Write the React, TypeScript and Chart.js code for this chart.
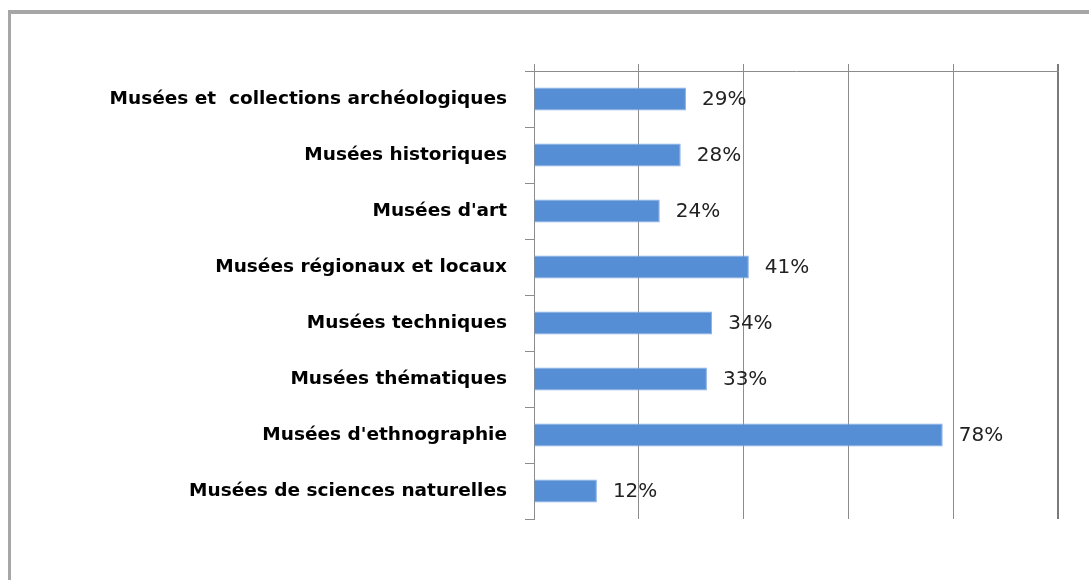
import React, { useEffect, useRef } from "react";
import { Chart, registerables } from "chart.js";

Chart.register(...registerables);

const categories = [
  "Musées et  collections archéologiques",
  "Musées historiques",
  "Musées d'art",
  "Musées régionaux et locaux",
  "Musées techniques",
  "Musées thématiques",
  "Musées d'ethnographie",
  "Musées de sciences naturelles",
];
const values = [29, 28, 24, 41, 34, 33, 78, 12];
const valueLabels = ["29%", "28%", "24%", "41%", "34%", "33%", "78%", "12%"];

const labelPlugin = {
  id: "barValueLabels",
  afterDatasetsDraw(chart: any) {
    const ctx = chart.ctx;
    const meta = chart.getDatasetMeta(0);
    ctx.save();
    ctx.font = "20px 'DejaVu Sans'";
    ctx.fillStyle = "#222";
    ctx.textAlign = "left";
    ctx.textBaseline = "middle";
    meta.data.forEach((bar: any, i: number) => {
      ctx.fillText(valueLabels[i], bar.x + 16, bar.y + 1);
    });
    ctx.restore();
  },
};

export default function App() {
  const ref = useRef<HTMLCanvasElement>(null);
  useEffect(() => {
    if (!ref.current) return;
    const chart = new Chart(ref.current, {
      type: "bar",
      data: {
        labels: categories,
        datasets: [
          {
            data: values,
            backgroundColor: "#558ED5",
            borderColor: "#86AEE2",
            borderWidth: 1,
            barPercentage: 0.41,
            categoryPercentage: 1,
          },
        ],
      },
      options: {
        indexAxis: "y",
        animation: false,
        responsive: false,
        maintainAspectRatio: false,
        layout: { padding: { left: 0, top: 64, right: 31, bottom: 61 } },
        plugins: { legend: { display: false }, tooltip: { enabled: false } },
        scales: {
          x: {
            position: "top",
            min: 0,
            max: 100,
            ticks: { stepSize: 20, display: false },
            grid: {
              color: (c: any) => (c.index === 5 ? "#7a7a7a" : "#8c8c8c"),
              lineWidth: (c: any) => (c.index === 5 ? 2 : 1),
              drawTicks: true,
              tickLength: 7,
            },
            border: { display: true, color: "#8c8c8c", width: 1 },
          },
          y: {
            afterFit: (scale: any) => {
              scale.width = 534;
            },
            ticks: {
              color: "#000",
              font: { family: "'DejaVu Sans'", weight: "bold", size: 18.5 },
              padding: 18,
              autoSkip: false,
            },
            grid: {
              drawOnChartArea: false,
              drawTicks: true,
              tickLength: 9,
              color: "#8c8c8c",
            },
            border: { display: true, color: "#8c8c8c", width: 1 },
          },
        },
      },
      plugins: [labelPlugin],
    });
    return () => chart.destroy();
  }, []);

  return (
    <div
      style={{
        position: "absolute",
        left: 0,
        top: 0,
        width: 1089,
        height: 580,
        overflow: "hidden",
        background: "#fff",
      }}
    >
      <div
        style={{
          position: "absolute",
          left: 8,
          top: 10,
          width: 1200,
          height: 700,
          borderTop: "4px solid #a6a6a6",
          borderLeft: "3px solid #a6a6a6",
        }}
      />
      <canvas
        ref={ref}
        width={1089}
        height={580}
        style={{ position: "absolute", left: 0, top: 0 }}
      />
    </div>
  );
}
